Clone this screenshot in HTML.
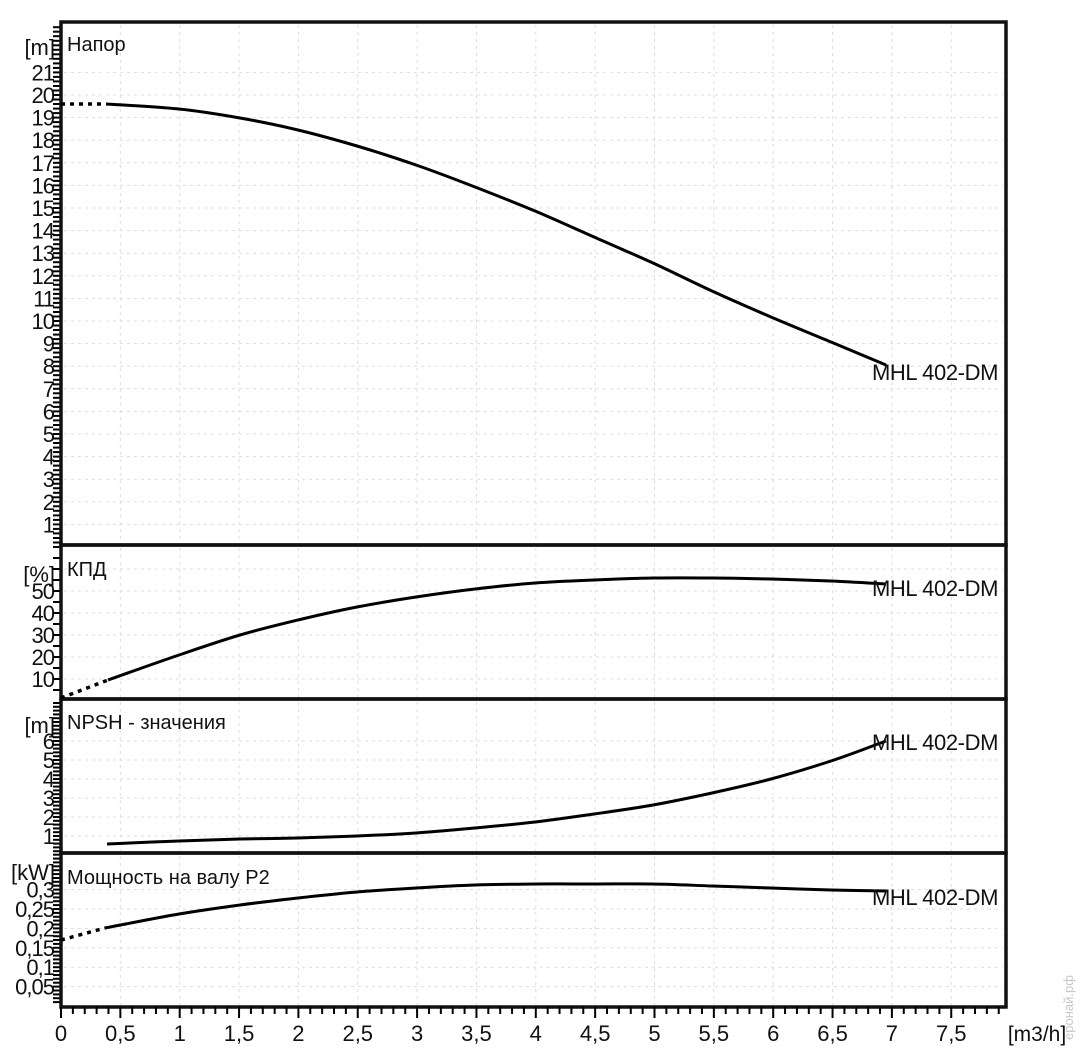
<!DOCTYPE html>
<html><head><meta charset="utf-8"><style>
html,body{margin:0;padding:0;background:#fff}
svg{display:block}
text{font-family:"Liberation Sans","DejaVu Sans",sans-serif;fill:#111}
</style></head><body>
<svg id="s" width="1081" height="1055" xmlns="http://www.w3.org/2000/svg"></svg>
<script>
const s=document.getElementById('s');let h='';
const X0=61,XU=118.7,R=1006;
function X(v){return X0+v*XU}
const P=[
 {t:22,b:545,z:547,u:22.6,vals:[...Array(21)].map((_,i)=>i+1),fmt:v=>''+v,minor:5,unit:'[m]',title:'Напор',ty:51,uy:55},
 {t:545,b:699,z:701,u:2.2,vals:[10,20,30,40,50],fmt:v=>''+v,minor:2,step:10,unit:'[%]',title:'КПД',ty:576,uy:582,extra:[60]},
 {t:699,b:853,z:855,u:19,vals:[1,2,3,4,5,6],fmt:v=>''+v,minor:5,step:1,unit:'[m]',title:'NPSH - значения',ty:729,uy:733},
 {t:853,b:1007,z:1006,u:388,vals:[0.05,0.1,0.15,0.2,0.25,0.3],fmt:v=>(''+v).replace('.',','),minor:5,step:0.05,unit:'[kW]',title:'Мощность на валу P2',ty:884,uy:880}
];
P.forEach(p=>{
 for(let v=0.5;v<=7.5;v+=0.5)h+=`<line x1="${X(v)}" y1="${p.t+3}" x2="${X(v)}" y2="${p.b-2}" stroke="#ddd" stroke-dasharray="3,4"/>`;
 (p.vals.concat(p.extra||[])).forEach(v=>{const y=p.z-v*p.u;if(y>p.t+3)h+=`<line x1="${X0+3}" y1="${y}" x2="${R-3}" y2="${y}" stroke="#ddd" stroke-dasharray="3,4"/>`;});
 p.vals.forEach(v=>{const y=p.z-v*p.u;h+=`<text x="54" y="${(y+8).toFixed(1)}" font-size="22" text-anchor="end" letter-spacing="-1">${p.fmt(v)}</text>`;});
 h+=`<text x="55" y="${p.uy}" font-size="22" text-anchor="end">${p.unit}</text>`;
 const st=(p.step||1)/p.minor;
 for(let v=st;p.z-v*p.u>p.t+1;v+=st){const y=p.z-v*p.u;if(y<p.b)h+=`<line x1="53" y1="${y.toFixed(1)}" x2="61" y2="${y.toFixed(1)}" stroke="#000" stroke-width="2"/>`;}
 h+=`<text x="67" y="${p.ty}" font-size="20">${p.title}</text>`;
 h+=`<rect x="61" y="${p.t}" width="${R-61}" height="${p.b-p.t}" fill="none" stroke="#111" stroke-width="3.5"/>`;
});
for(let i=0;i<=79;i++){const x=X(i/10);h+=`<line x1="${x}" y1="1007" x2="${x}" y2="${i%5?1014:1018}" stroke="#000" stroke-width="2"/>`;}
for(let i=0;i<=15;i++){const v=i/2;h+=`<text x="${X(v)}" y="1041" font-size="22" text-anchor="middle">${(''+v).replace('.',',')}</text>`;}
h+=`<text x="1037" y="1041" font-size="21" text-anchor="middle">[m3/h]</text>`;
function pl(pts,dash){return `<polyline points="${pts.map(p=>p.join(',')).join(' ')}" fill="none" stroke="#000" stroke-width="${dash?3.5:3}" ${dash?'stroke-dasharray="4,5"':''} stroke-linejoin="round"/>`}
function sm(pts){let d=`M${pts[0][0]},${pts[0][1]}`;for(let i=0;i<pts.length-1;i++){const p0=pts[Math.max(0,i-1)],p1=pts[i],p2=pts[i+1],p3=pts[Math.min(pts.length-1,i+2)];d+=` C${(p1[0]+(p2[0]-p0[0])/6).toFixed(1)},${(p1[1]+(p2[1]-p0[1])/6).toFixed(1)} ${(p2[0]-(p3[0]-p1[0])/6).toFixed(1)},${(p2[1]-(p3[1]-p1[1])/6).toFixed(1)} ${p2[0]},${p2[1]}`;}return `<path d="${d}" fill="none" stroke="#000" stroke-width="3"/>`}
h+=pl([[61,104],[106,104]],1);
h+=sm([[106,104],[179,109],[240,118],[298,130],[357,146],[416,165],[475,187],[535,211],[594,237],[653,263],[712,291],[771,317],[831,342],[886,365]]);
h+=pl([[61,698],[108,680]],1);
h+=sm([[108,680],[179,655],[240,635],[298,620],[357,607],[416,597],[475,589],[535,583],[594,580],[653,578],[712,578],[771,579],[831,581],[886,584]]);
h+=sm([[107,844],[179,841],[240,839],[298,838],[357,836],[416,833],[475,828],[535,822],[594,814],[653,805],[712,793],[771,779],[831,761],[886,741]]);
h+=pl([[61,940],[105,928]],1);
h+=sm([[105,928],[179,914],[240,905],[298,898],[357,892],[416,888],[475,885],[535,884],[594,884],[653,884],[712,886],[771,888],[831,890],[886,891]]);
[380,596,750,905].forEach(y=>h+=`<text x="872" y="${y}" font-size="22" letter-spacing="-0.4">MHL 402-DM</text>`);
h+=`<text x="0" y="0" font-size="13" style="fill:#c8c8c8" transform="translate(1073,1040) rotate(-90)">еронай.рф</text>`;
s.innerHTML=h;
</script>
</body></html>
